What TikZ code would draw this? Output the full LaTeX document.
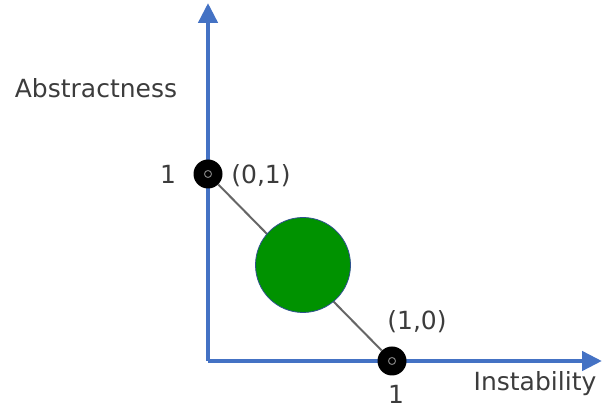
\documentclass[tikz,border=0pt]{standalone}
\usepackage{fontspec}
\setmainfont{DejaVu Sans}
\usetikzlibrary{arrows.meta,positioning}

\definecolor{axisblue}{RGB}{68,114,196}
\definecolor{blobgreen}{RGB}{0,146,0}
\definecolor{blobedge}{RGB}{47,82,143}
\definecolor{labelgray}{RGB}{60,60,60}

\begin{document}
\begin{tikzpicture}[x=1pt, y=1pt,
    axis/.style={draw=axisblue, line width=4.5pt, -{Triangle[length=20pt, width=19pt]}},
    dot/.style={circle, fill=black, minimum size=29pt, inner sep=0pt,
        path picture={\draw[gray, line width=1pt] (path picture bounding box.center) circle (3.5pt);}},
    blob/.style={circle, fill=blobgreen, draw=blobedge, line width=0.8pt, minimum size=95pt, inner sep=0pt},
    lbl/.style={text=labelgray, font=\fontsize{25}{28}\selectfont, inner sep=0pt}
]
    \useasboundingbox (0,0) rectangle (602,411);

    \coordinate (origin) at (208,50);
    \coordinate (ytip) at (208,408);
    \coordinate (xtip) at (602,50);

    \draw[axis] (origin) -- (ytip);
    \draw[axis] (origin) -- (xtip);

    \node[dot] (abs1) at (208,237) {};
    \node[dot] (inst1) at (392,50) {};

    \draw[gray!80!black, line width=2pt] (abs1) -- (inst1);
    \node[blob] (comp) at (303,146) {};

    \node[lbl] (ylabel) at (96,323) {Abstractness};
    \node[lbl] (xlabel) at (535,27) {Instability};
    \node[lbl] (ytick) at (168,237) {1};
    \node[lbl] (xtick) at (396,17) {1};
    \node[lbl] (ptA) at (261,235) {(0,1)};
    \node[lbl] (ptB) at (417,89) {(1,0)};
\end{tikzpicture}
\end{document}
